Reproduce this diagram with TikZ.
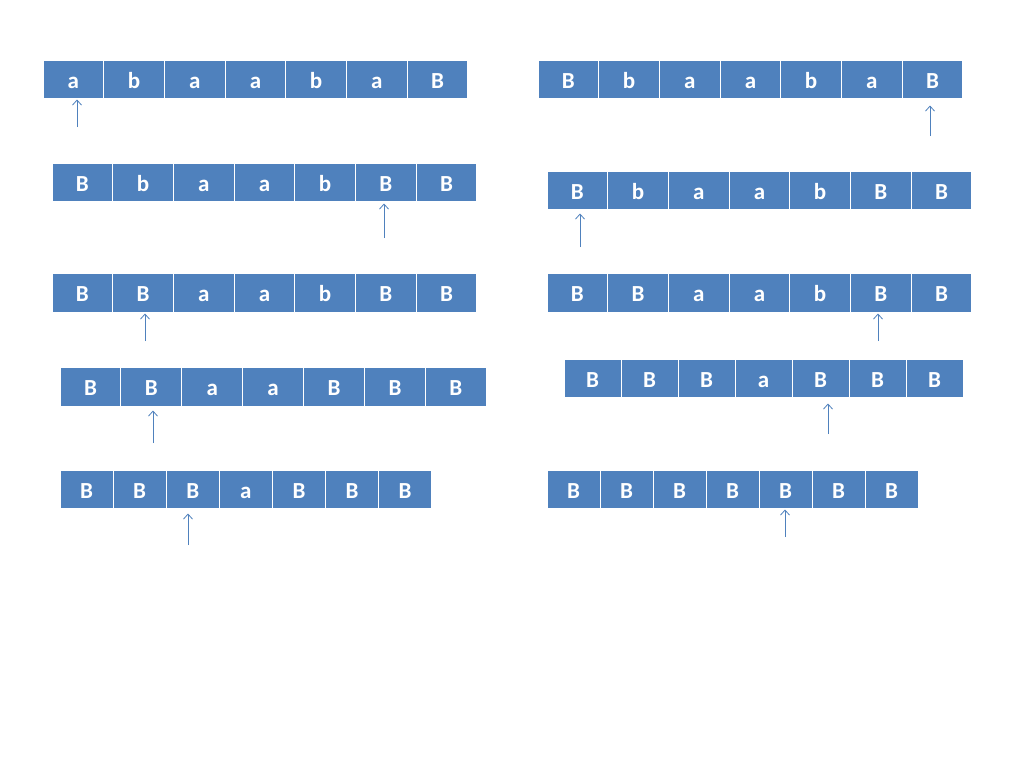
\documentclass[tikz,border=0pt]{standalone}
\usepackage{fontspec}
\setmainfont{Carlito}
\usetikzlibrary{arrows.meta}
\definecolor{cellblue}{HTML}{4F81BD}
\newcommand\tapeRow[6]{%
  \foreach \l [count=\i] in {#6} {%
    \node[cell, minimum width=#4pt, minimum height=#5pt] (#1c\i) at ({#2+(\i-0.5)*#4},{#3+#5/2}) {\l};
  }%
}
\begin{document}
\begin{tikzpicture}[x=1pt,y=-1pt,
  cell/.style={fill=cellblue, draw=white, line width=1pt, inner sep=0pt,
    text=white, font=\bfseries\fontsize{23}{25}\selectfont, text height=18pt, text depth=0pt},
  arr/.style={draw=cellblue, line width=0.8pt, -{Straight Barb[length=5pt,width=9pt]}}]
\useasboundingbox[fill=white] (0,0) rectangle (1024,768);
% left column
\tapeRow{La}{43}{60}{60.7}{38}{a,b,a,a,b,a,B}
\tapeRow{Lb}{52}{163}{60.7}{38}{B,b,a,a,b,B,B}
\tapeRow{Lc}{52}{273}{60.7}{39}{B,B,a,a,b,B,B}
\tapeRow{Ld}{60}{367}{60.9}{39}{B,B,a,a,B,B,B}
\tapeRow{Le}{60}{470}{53.1}{38}{B,B,B,a,B,B,B}
% right column
\tapeRow{Ra}{538}{60}{60.7}{38}{B,b,a,a,b,a,B}
\tapeRow{Rb}{547}{171}{60.7}{38}{B,b,a,a,b,B,B}
\tapeRow{Rc}{547}{273}{60.7}{39}{B,B,a,a,b,B,B}
\tapeRow{Rd}{564}{359}{57}{38}{B,B,B,a,B,B,B}
\tapeRow{Re}{547}{470}{53}{38}{B,B,B,B,B,B,B}
% arrow tails
\coordinate (tLa) at (77,127);
\coordinate (tLb) at (384,238);
\coordinate (tLc) at (145,341);
\coordinate (tLd) at (153,443);
\coordinate (tLe) at (188,545);
\coordinate (tRa) at (930,136);
\coordinate (tRb) at (580,247);
\coordinate (tRc) at (878,341);
\coordinate (tRd) at (828,434);
\coordinate (tRe) at (785,537);
% arrows
\draw[arr, shorten >=1pt] (tLa) -- (tLa |- Lac1.south);
\draw[arr, shorten >=2pt] (tLb) -- (tLb |- Lbc6.south);
\draw[arr, shorten >=1pt] (tLc) -- (tLc |- Lcc2.south);
\draw[arr, shorten >=4pt] (tLd) -- (tLd |- Ldc2.south);
\draw[arr, shorten >=5pt] (tLe) -- (tLe |- Lec3.south);
\draw[arr, shorten >=7pt] (tRa) -- (tRa |- Rac7.south);
\draw[arr, shorten >=4pt] (tRb) -- (tRb |- Rbc1.south);
\draw[arr, shorten >=1pt] (tRc) -- (tRc |- Rcc6.south);
\draw[arr, shorten >=6pt] (tRd) -- (tRd |- Rdc5.south);
\draw[arr, shorten >=1pt] (tRe) -- (tRe |- Rec5.south);
\end{tikzpicture}
\end{document}
